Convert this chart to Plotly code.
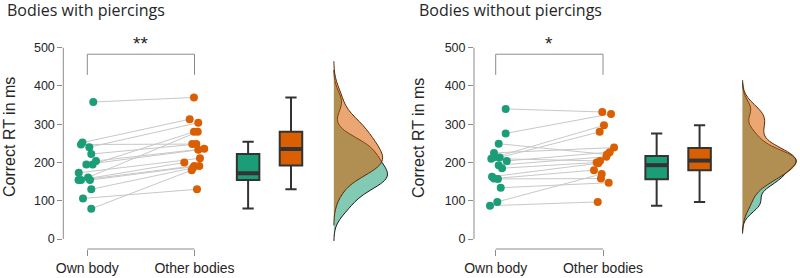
import numpy as np
import plotly.graph_objects as go

# ---------------- data ----------------
categories = ["Own body", "Other bodies"]
y_ticks = [0, 100, 200, 300, 400, 500]
panel_titles = ["Bodies with piercings", "Bodies without piercings"]
sig_labels = ["**", "*"]
y_title = "Correct RT in ms"

# Bodies with piercings (paired: own[i] <-> other[i])
pierced_own = [358, 252, 247, 240, 222, 204, 195, 195, 173, 161, 154, 154, 154, 130, 106, 79]
pierced_own_jit = [0.056, -0.045, -0.059, 0.019, 0.037, 0.081, 0.050, -0.009, -0.080, 0.007,
                   -0.082, -0.059, 0.025, 0.037, -0.040, 0.037]
pierced_other = [370, 313, 248, 304, 248, 236, 280, 233, 211, 280, 200, 191, 191, 186, 130, 180]
pierced_other_jit = [-0.005, -0.045, -0.021, 0.035, 0.017, 0.091, -0.005, 0.035, 0.051, 0.030,
                     -0.095, -0.002, 0.045, -0.014, 0.023, -0.026]
# box stats: lower whisker, q1, median, q3, upper whisker
pierced_own_box = [80, 154, 172, 222, 254]
pierced_other_box = [130, 192, 235, 280, 370]

# Bodies without piercings
plain_own = [340, 276, 249, 225, 214, 213, 210, 204, 193, 185, 163, 158, 157, 134, 97, 87]
plain_own_jit = [0.093, 0.093, 0.028, -0.016, -0.004, 0.037, -0.041, 0.103, 0.028, 0.059,
                 -0.034, -0.016, 0.021, 0.047, 0.015, -0.053]
plain_other = [332, 327, 221, 239, 297, 280, 204, 227, 215, 200, 198, 180, 158, 147, 170, 97]
plain_other_jit = [-0.007, 0.075, 0.037, 0.103, 0.009, -0.031, -0.028, 0.062, 0.031, -0.059,
                   -0.044, -0.084, -0.019, 0.053, -0.012, -0.049]
plain_own_box = [87, 156, 193, 217, 276]
plain_other_box = [97, 179.5, 205, 238, 297]

# ---------------- style ----------------
GREEN = "#1b9e77"
ORANGE = "#d95f02"
GREEN_FILL = "rgba(27,158,119,0.55)"
ORANGE_FILL = "rgba(217,95,2,0.55)"
AXIS_C = "#8c8c8c"
TEXT_C = "#262626"
SANS = "Liberation Sans, Arial, sans-serif"
TITLE_FONT = "Open Sans, Noto Sans, sans-serif"

W, H = 800, 278
POS_OWN, POS_OTHER = 1, 2
POS_BOX_G, POS_BOX_O, POS_VIOL = 2.5, 2.9, 3.3
BOX_W = 0.21


def nrd0(x):
    x = np.asarray(x, float)
    sd = x.std(ddof=1)
    q75, q25 = np.percentile(x, [75, 25])
    lo = min(sd, (q75 - q25) / 1.34)
    return 0.9 * lo * len(x) ** -0.2


fig = go.Figure()

panels = [
    dict(own=pierced_own, ojit=pierced_own_jit, other=pierced_other, tjit=pierced_other_jit,
         gbox=pierced_own_box, obox=pierced_other_box, xa="x", ya="y",
         vw=(1.0, 0.91), sg=("L1", "L2")),
    dict(own=plain_own, ojit=plain_own_jit, other=plain_other, tjit=plain_other_jit,
         gbox=plain_own_box, obox=plain_other_box, xa="x2", ya="y2",
         vw=(1.0, 1.0), sg=("R", "R")),
]

for p in panels:
    xs_own = [POS_OWN + j for j in p["ojit"]]
    xs_oth = [POS_OTHER + j for j in p["tjit"]]
    lx, ly = [], []
    for a, b, c, d in zip(xs_own, p["own"], xs_oth, p["other"]):
        lx += [a, c, None]
        ly += [b, d, None]
    fig.add_trace(go.Scatter(x=lx, y=ly, mode="lines", xaxis=p["xa"], yaxis=p["ya"],
                             line=dict(color="#c8c8c8", width=1), showlegend=False,
                             hoverinfo="skip"))
    fig.add_trace(go.Scatter(x=xs_own, y=p["own"], mode="markers", xaxis=p["xa"], yaxis=p["ya"],
                             marker=dict(color=GREEN, size=8), showlegend=False))
    fig.add_trace(go.Scatter(x=xs_oth, y=p["other"], mode="markers", xaxis=p["xa"], yaxis=p["ya"],
                             marker=dict(color=ORANGE, size=8), showlegend=False))
    for pos, st, col in [(POS_BOX_G, p["gbox"], GREEN), (POS_BOX_O, p["obox"], ORANGE)]:
        fig.add_trace(go.Box(x=[pos], lowerfence=[st[0]], q1=[st[1]], median=[st[2]],
                             q3=[st[3]], upperfence=[st[4]], width=BOX_W,
                             fillcolor=col, line=dict(color="#333333", width=2),
                             whiskerwidth=0.5, boxpoints=False, showlegend=False,
                             xaxis=p["xa"], yaxis=p["ya"]))
        # thicker median bar
        fig.add_trace(go.Scatter(x=[pos - BOX_W / 2, pos + BOX_W / 2], y=[st[2], st[2]],
                                 mode="lines", line=dict(color="#333333", width=4),
                                 showlegend=False, hoverinfo="skip",
                                 xaxis=p["xa"], yaxis=p["ya"]))
    for vals, fill, lc, vw, sg in [(p["own"], GREEN_FILL, "#1a1a1a", p["vw"][0], p["sg"][0]),
                                   (p["other"], ORANGE_FILL, "#5a2a08", p["vw"][1], p["sg"][1])]:
        bw = nrd0(vals)
        fig.add_trace(go.Violin(x=[POS_VIOL] * len(vals), y=vals, side="positive", width=vw,
                                bandwidth=bw, spanmode="manual",
                                span=[min(vals) - 3 * bw, max(vals) + 3 * bw],
                                scalemode="width", scalegroup=sg,
                                fillcolor=fill, line=dict(color=lc, width=1),
                                points=False, box_visible=False, meanline_visible=False,
                                showlegend=False, xaxis=p["xa"], yaxis=p["ya"]))

ydom = [1 - 249 / H, 1 - 30 / H]
k = (239 - 47.7) / 500.0
yrng = [(239 - 249) / k, (239 - 30) / k]

common_y = dict(domain=ydom, range=yrng, tickvals=y_ticks, ticks="outside", ticklen=5,
                tickcolor=AXIS_C, showline=False, showgrid=False, zeroline=False,
                automargin=False,
                tickfont=dict(family=SANS, size=12.5, color=TEXT_C))
common_x = dict(tickvals=[POS_OWN, POS_OTHER], ticktext=categories, ticks="outside",
                ticklen=6, tickcolor=AXIS_C, showline=False, showgrid=False, zeroline=False,
                automargin=False,
                tickfont=dict(family=SANS, size=14, color=TEXT_C))

fig.update_layout(
    width=W, height=H, margin=dict(l=0, r=0, t=0, b=0, pad=0),
    paper_bgcolor="white", plot_bgcolor="white",
    boxmode="overlay", violinmode="overlay",
    xaxis=dict(domain=[63.3 / W, 395 / W], range=[1 - 24 / 107.2, 1 + (395 - 87.3) / 107.2],
               anchor="y", **common_x),
    yaxis=dict(anchor="x", **common_y),
    xaxis2=dict(domain=[474 / W, 1.0], range=[1 - 21.7 / 107.3, 1 + (800 - 495.7) / 107.3],
                anchor="y2", **common_x),
    yaxis2=dict(anchor="x2", **common_y),
)

shapes = []
annotations = []
bracket_hi, bracket_lo = 483, 429
for i, (xa, ya) in enumerate([("x", "y"), ("x2", "y2")]):
    shapes.append(dict(type="line", xref=f"{xa} domain", x0=0, x1=0, yref=ya,
                       y0=y_ticks[0], y1=y_ticks[-1], line=dict(color=AXIS_C, width=1)))
    shapes.append(dict(type="line", xref=xa, x0=POS_OWN, x1=POS_OTHER, yref=f"{ya} domain",
                       y0=0, y1=0, line=dict(color=AXIS_C, width=1)))
    shapes.append(dict(type="path", xref=xa, yref=ya,
                       path=f"M {POS_OWN},{bracket_lo} L {POS_OWN},{bracket_hi} "
                            f"L {POS_OTHER},{bracket_hi} L {POS_OTHER},{bracket_lo}",
                       line=dict(color=AXIS_C, width=1)))
    annotations.append(dict(xref=xa, yref=ya, x=(POS_OWN + POS_OTHER) / 2, y=bracket_hi - 4,
                            text=sig_labels[i], showarrow=False, yanchor="bottom",
                            font=dict(family=SANS, size=19, color=TEXT_C)))

annotations.append(dict(xref="paper", yref="paper", x=5 / W, y=1 - 10 / H, text=panel_titles[0],
                        showarrow=False, xanchor="left", yanchor="middle",
                        font=dict(family=TITLE_FONT, size=16, color=TEXT_C)))
annotations.append(dict(xref="paper", yref="paper", x=417 / W, y=1 - 10 / H, text=panel_titles[1],
                        showarrow=False, xanchor="left", yanchor="middle",
                        font=dict(family=TITLE_FONT, size=16, color=TEXT_C)))
for xc in [9.5, 418.5]:
    annotations.append(dict(xref="paper", yref="paper", x=xc / W, y=1 - 137.5 / H, text=y_title,
                            textangle=-90, showarrow=False, xanchor="center", yanchor="middle",
                            font=dict(family=SANS, size=16, color=TEXT_C)))

fig.update_layout(shapes=shapes, annotations=annotations)
fig.write_html("out.html", config={"displayModeBar": False},
               post_script="document.body.style.margin='0';document.body.style.overflow='hidden';")
